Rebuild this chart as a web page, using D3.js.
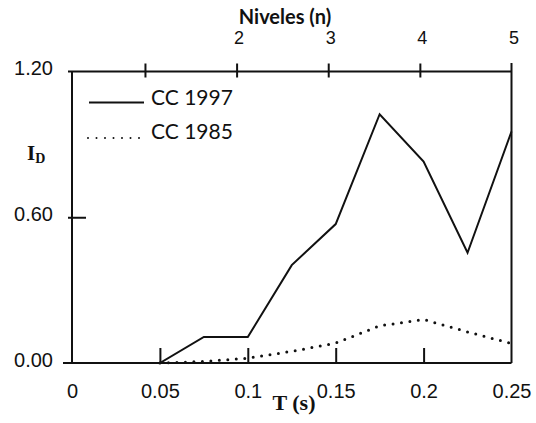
<!DOCTYPE html>
<html>
<head>
<meta charset="utf-8">
<script src="https://cdn.jsdelivr.net/npm/d3@7/dist/d3.min.js"></script>
<style>
  body { margin: 0; background: #fff; }
  svg { display: block; font-family: Lato, "Open Sans", sans-serif; }
  .axis text { font-size: 20px; fill: #111; }
  .axis path { display: none; }
  .axis line { stroke: #111; stroke-width: 2; }
</style>
</head>
<body>
<svg id="chart"></svg>
<script>
// periods T (s)
const periods = [0, 0.025, 0.05, 0.075, 0.1, 0.125, 0.15, 0.175, 0.2, 0.225, 0.25];
// damage index I_D per code
const cc1997 = [0, 0, 0, 0.107, 0.107, 0.403, 0.572, 1.024, 0.829, 0.454, 0.953];
const cc1985 = [0, 0, 0, 0.006, 0.02, 0.048, 0.082, 0.153, 0.179, 0.128, 0.08];

const xTicks = [0, 0.05, 0.1, 0.15, 0.2, 0.25];
const yTicks = [0, 0.6, 1.2];
const levelTicks = [1, 2, 3, 4, 5];

const W = 536, H = 423;
const L = 72, R = 511.5, T = 71.5, B = 363;

const svg = d3.select('#chart').attr('width', W).attr('height', H);

const x = d3.scaleLinear().domain([0, 0.25]).range([L, R]);
const y = d3.scaleLinear().domain([0, 1.2]).range([B, T]);
// storey levels sit on the period axis, level 1 ~ T=0.0415
const xn = d3.scaleLinear().domain([1, 5]).range([x(0.0415), x(0.25)]);

// frame
const frame = svg.append('g').attr('stroke', '#111').attr('stroke-width', 2);
frame.append('line').attr('x1', 63).attr('x2', R).attr('y1', B).attr('y2', B);
frame.append('line').attr('x1', 68).attr('x2', R).attr('y1', T).attr('y2', T);
frame.append('line').attr('x1', L).attr('x2', L).attr('y1', T).attr('y2', B);
frame.append('line').attr('x1', R).attr('x2', R).attr('y1', 63).attr('y2', B);

// bottom axis, ticks pointing inward
const xAxis = svg.append('g').attr('class', 'axis')
  .attr('transform', `translate(0,${B})`)
  .call(d3.axisBottom(x).tickValues(xTicks).tickSizeInner(-15).tickSizeOuter(0)
    .tickPadding(21).tickFormat(d3.format('')));
xAxis.selectAll('.tick line').filter(d => d === 0 || d === 0.25).remove();

// left axis
const yAxis = svg.append('g').attr('class', 'axis')
  .attr('transform', `translate(${L},0)`)
  .call(d3.axisLeft(y).tickValues(yTicks).tickSize(0).tickPadding(19)
    .tickFormat(d3.format('.2f')));
yAxis.selectAll('.tick text').attr('dy', '0.15em');
yAxis.selectAll('.tick line').filter(d => d === 0.6).attr('x1', -4).attr('x2', 14);

// top axis: levels
const nAxis = svg.append('g').attr('class', 'axis')
  .attr('transform', `translate(0,${T})`)
  .call(d3.axisTop(xn).tickValues(levelTicks).tickSizeInner(8).tickSizeOuter(0)
    .tickPadding(20).tickFormat(d => d === 1 ? '' : d));
nAxis.selectAll('.tick line').attr('y1', 6).filter(d => d === 5).remove();
nAxis.selectAll('.tick text').attr('dx', 2).style('font-size', '18px');

// series
const line = d3.line().x(d => x(d[0])).y(d => y(d[1]));

svg.append('path')
  .datum(d3.zip(periods, cc1997))
  .attr('d', line)
  .attr('fill', 'none').attr('stroke', '#111').attr('stroke-width', 2)
  .attr('stroke-linejoin', 'miter');

svg.append('path')
  .datum(d3.zip(periods, cc1985).filter(d => d[0] >= 0.05))
  .attr('d', line)
  .attr('fill', 'none').attr('stroke', '#111').attr('stroke-width', 3)
  .attr('stroke-linecap', 'round').attr('stroke-dasharray', '0 8.5');

// legend
const leg = svg.append('g');
leg.append('line').attr('x1', 89).attr('x2', 144).attr('y1', 102.5).attr('y2', 102.5)
  .attr('stroke', '#111').attr('stroke-width', 2);
leg.append('text').attr('x', 151).attr('y', 104.5).attr('font-size', 21).attr('fill', '#111')
  .text('CC 1997');
leg.append('line').attr('x1', 88).attr('x2', 142).attr('y1', 138).attr('y2', 138)
  .attr('stroke', '#111').attr('stroke-width', 2)
  .attr('stroke-linecap', 'round').attr('stroke-dasharray', '0 8.5');
leg.append('text').attr('x', 151).attr('y', 138.5).attr('font-size', 21).attr('fill', '#111')
  .text('CC 1985');

// titles
svg.append('text').attr('x', 285).attr('y', 24).attr('text-anchor', 'middle')
  .attr('font-size', 20).attr('font-weight', 'bold').attr('fill', '#111')
  .text('Niveles (n)');
svg.append('text').attr('x', 294).attr('y', 410).attr('text-anchor', 'middle')
  .attr('font-family', '"Liberation Serif", serif')
  .attr('font-size', 22).attr('font-weight', 'bold').attr('fill', '#111')
  .text('T (s)');
const id = svg.append('text').attr('x', 27).attr('y', 160)
  .attr('font-family', '"Liberation Serif", serif')
  .attr('font-weight', 'bold').attr('fill', '#111');
id.append('tspan').attr('font-size', 21).text('I');
id.append('tspan').attr('font-size', 14).attr('dy', 3).text('D');
</script>
</body>
</html>
